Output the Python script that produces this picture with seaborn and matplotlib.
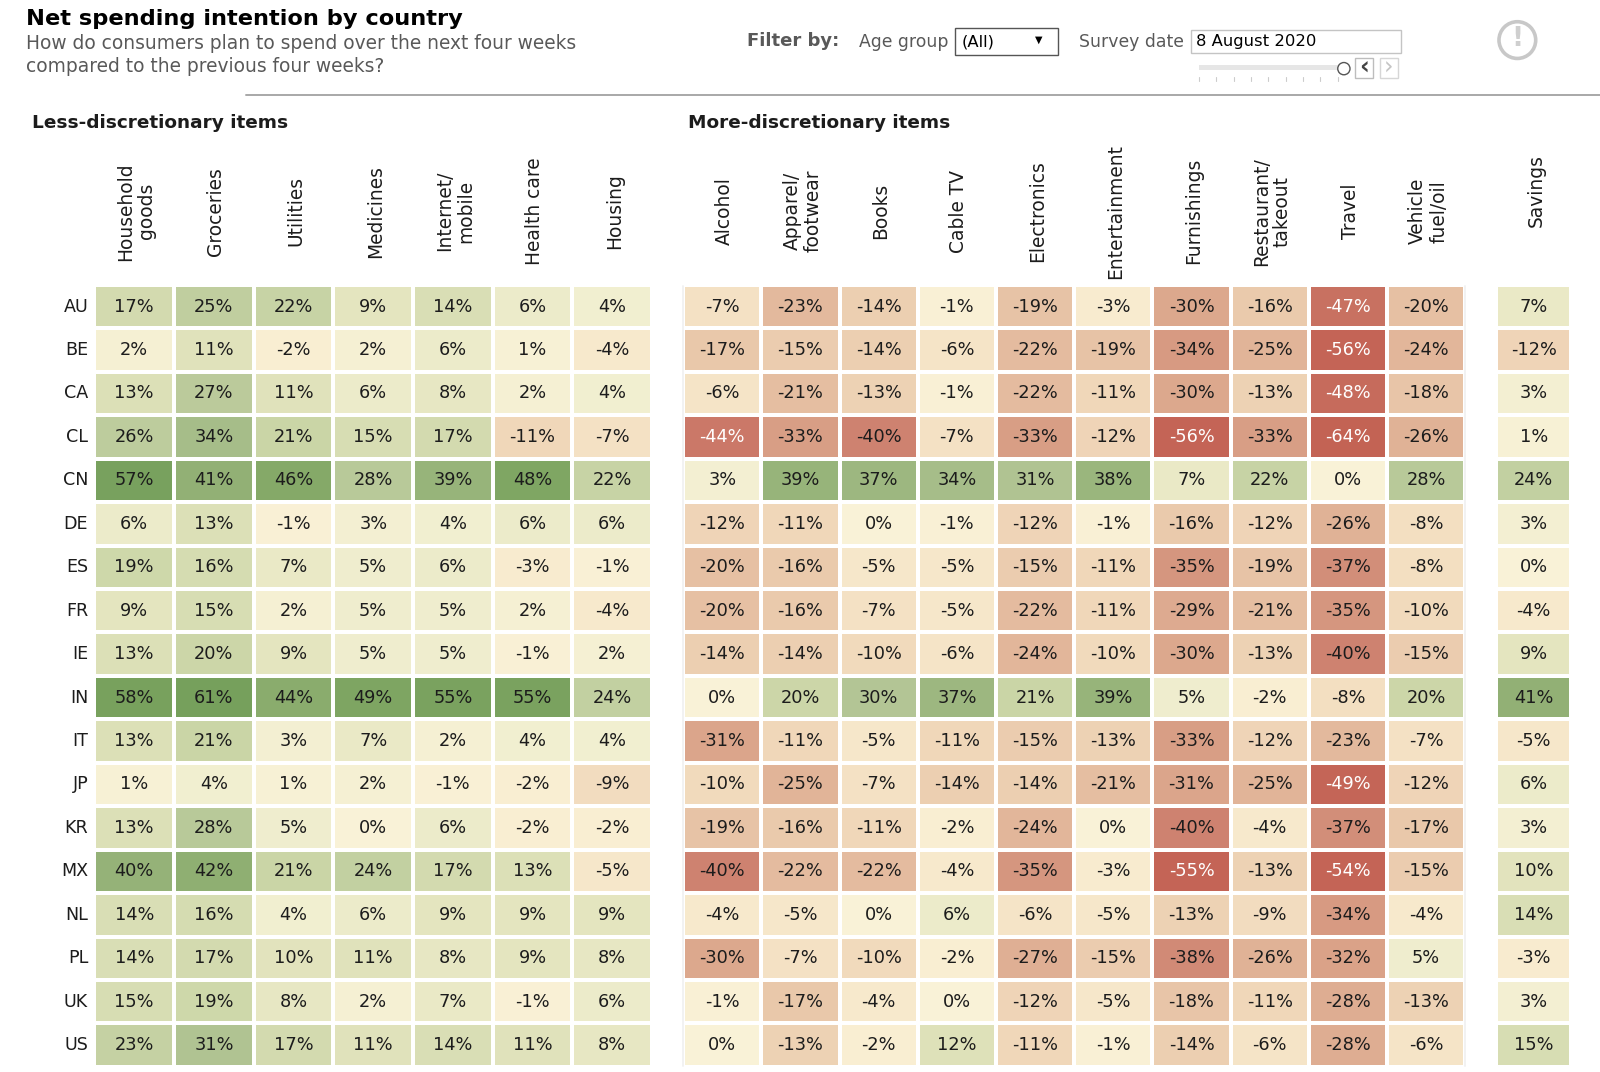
import numpy as np
import pandas as pd
import matplotlib
matplotlib.use("Agg")
import matplotlib.pyplot as plt
from matplotlib.colors import LinearSegmentedColormap
from matplotlib.patches import Circle, Rectangle
from matplotlib.transforms import ScaledTranslation
import seaborn as sns

countries = ["AU", "BE", "CA", "CL", "CN", "DE", "ES", "FR", "IE",
             "IN", "IT", "JP", "KR", "MX", "NL", "PL", "UK", "US"]
less_items = ["Household\ngoods", "Groceries", "Utilities", "Medicines",
              "Internet/\nmobile", "Health care", "Housing"]
more_items = ["Alcohol", "Apparel/\nfootwear", "Books", "Cable TV", "Electronics",
              "Entertainment", "Furnishings", "Restaurant/\ntakeout", "Travel", "Vehicle\nfuel/oil"]
savings_items = ["Savings"]

less_values = [
    [17, 25, 22, 9, 14, 6, 4],
    [2, 11, -2, 2, 6, 1, -4],
    [13, 27, 11, 6, 8, 2, 4],
    [26, 34, 21, 15, 17, -11, -7],
    [57, 41, 46, 28, 39, 48, 22],
    [6, 13, -1, 3, 4, 6, 6],
    [19, 16, 7, 5, 6, -3, -1],
    [9, 15, 2, 5, 5, 2, -4],
    [13, 20, 9, 5, 5, -1, 2],
    [58, 61, 44, 49, 55, 55, 24],
    [13, 21, 3, 7, 2, 4, 4],
    [1, 4, 1, 2, -1, -2, -9],
    [13, 28, 5, 0, 6, -2, -2],
    [40, 42, 21, 24, 17, 13, -5],
    [14, 16, 4, 6, 9, 9, 9],
    [14, 17, 10, 11, 8, 9, 8],
    [15, 19, 8, 2, 7, -1, 6],
    [23, 31, 17, 11, 14, 11, 8],
]
more_values = [
    [-7, -23, -14, -1, -19, -3, -30, -16, -47, -20],
    [-17, -15, -14, -6, -22, -19, -34, -25, -56, -24],
    [-6, -21, -13, -1, -22, -11, -30, -13, -48, -18],
    [-44, -33, -40, -7, -33, -12, -56, -33, -64, -26],
    [3, 39, 37, 34, 31, 38, 7, 22, 0, 28],
    [-12, -11, 0, -1, -12, -1, -16, -12, -26, -8],
    [-20, -16, -5, -5, -15, -11, -35, -19, -37, -8],
    [-20, -16, -7, -5, -22, -11, -29, -21, -35, -10],
    [-14, -14, -10, -6, -24, -10, -30, -13, -40, -15],
    [0, 20, 30, 37, 21, 39, 5, -2, -8, 20],
    [-31, -11, -5, -11, -15, -13, -33, -12, -23, -7],
    [-10, -25, -7, -14, -14, -21, -31, -25, -49, -12],
    [-19, -16, -11, -2, -24, 0, -40, -4, -37, -17],
    [-40, -22, -22, -4, -35, -3, -55, -13, -54, -15],
    [-4, -5, 0, 6, -6, -5, -13, -9, -34, -4],
    [-30, -7, -10, -2, -27, -15, -38, -26, -32, 5],
    [-1, -17, -4, 0, -12, -5, -18, -11, -28, -13],
    [0, -13, -2, 12, -11, -1, -14, -6, -28, -6],
]
savings_values = [7, -12, 3, 1, 24, 3, 0, -4, 9, 41, -5, 6, 3, 10, 14, -3, 3, 15]

W, H = 1568.0, 1050.0
TEXT = "#1c1c1c"
GREY = "#595959"

sns.set_theme(style="white")
plt.rcParams["font.family"] = ["DejaVu Sans"]

# colour read at a few cell values, limits are +-64
stops = [(-64, "#c36354"), (-49, "#c46557"), (-47, "#c87161"), (-40, "#ce8270"), (-31, "#dba58b"),
         (-24, "#e2b69a"), (-15, "#ebccae"), (-5, "#f6e6c9"), (0, "#faf2d7"), (5, "#f0eecf"),
         (9, "#e5e5c0"), (20, "#cdd7a9"), (30, "#b4c696"), (37, "#9eb881"), (41, "#93b176"),
         (49, "#7ea562"), (61, "#76a05c"), (64, "#74a05a")]
spend_cmap = LinearSegmentedColormap.from_list(
    "spend", [((v + 64) / 128, c) for v, c in stops])


def fx(x):
    return x / W


def fy(y):
    return 1 - y / H


def add_panel(fig, frame, left, right, show_rows=False, label_pad=53):
    ax = fig.add_axes([fx(left), fy(1045), fx(right - left), fy(279) - fy(1045)])
    labels = frame.map(lambda v: f"{v}%")
    sns.heatmap(frame, ax=ax, cmap=spend_cmap, vmin=-64, vmax=64, center=0, cbar=False,
                annot=labels, fmt="", linewidths=1.5, linecolor="white",
                annot_kws={"fontsize": 12.8, "color": TEXT})
    for txt, val in zip(ax.texts, frame.to_numpy().ravel()):
        if val <= -44:
            txt.set_color("white")
    ax.xaxis.tick_top()
    ax.tick_params(axis="x", length=0, pad=label_pad)
    ax.set_xticklabels(frame.columns, rotation=90, ha="center", va="center",
                       fontsize=13.4, color=TEXT, linespacing=1.15)
    nudge = ScaledTranslation(1.5 / 72, 0, fig.dpi_scale_trans)
    for tick_label in ax.get_xticklabels():
        tick_label.set_transform(tick_label.get_transform() + nudge)
    ax.tick_params(axis="y", length=0, pad=4.5)
    if show_rows:
        ax.set_yticklabels(frame.index, rotation=0, fontsize=12.6, color=TEXT)
    else:
        ax.set_yticks([])
    ax.set_xlabel("")
    ax.set_ylabel("")
    return ax


fig = plt.figure(figsize=(16, 10.72), dpi=100, facecolor="white")

less_df = pd.DataFrame(less_values, index=countries, columns=less_items)
more_df = pd.DataFrame(more_values, index=countries, columns=more_items)
savings_df = pd.DataFrame(np.array(savings_values).reshape(-1, 1), index=countries, columns=savings_items)

add_panel(fig, less_df, 92.5, 639, show_rows=True)
add_panel(fig, more_df, 669.5, 1436)
add_panel(fig, savings_df, 1466, 1540, label_pad=68)

# header text
fig.text(fx(25), fy(19), "Net spending intention by country", fontsize=16.2, fontweight="bold",
         color="black", va="center")
fig.text(fx(25), fy(43), "How do consumers plan to spend over the next four weeks", fontsize=13.4,
         color=GREY, va="center")
fig.text(fx(25), fy(65), "compared to the previous four weeks?", fontsize=13.4, color=GREY, va="center")
fig.text(fx(31), fy(120), "Less-discretionary items", fontsize=13.3, fontweight="bold", color=TEXT, va="center")
fig.text(fx(674), fy(120), "More-discretionary items", fontsize=13.3, fontweight="bold", color=TEXT, va="center")

# filter controls
fig.text(fx(732), fy(40), "Filter by:", fontsize=13, fontweight="bold", color=GREY, va="center")
fig.text(fx(842), fy(41), "Age group", fontsize=12.4, color=GREY, va="center")
fig.text(fx(1057), fy(41), "Survey date", fontsize=12.4, color=GREY, va="center")
fig.text(fx(942), fy(41), "(All)", fontsize=11.8, color="black", va="center")
fig.text(fx(1172), fy(41), "8 August 2020", fontsize=11.8, color="black", va="center")
fig.text(fx(1018), fy(39), "\u25bc", fontsize=7, color="black", va="center", ha="center")


def add_box(x0, y0, x1, y1, edge, fc="white", lw=1.0):
    fig.add_artist(Rectangle((fx(x0), fy(y1)), fx(x1 - x0), fy(y0) - fy(y1), transform=fig.transFigure,
                             facecolor=fc, edgecolor=edge, linewidth=lw))


add_box(936, 27, 1037, 54, "#555555")
add_box(1167, 29, 1373, 52, "#c4c4c4")
add_box(1175, 64, 1311, 69, "none", fc="#e6e6e6", lw=0)
for tick_x in range(1175, 1320, 17):
    fig.add_artist(plt.Line2D([fx(tick_x), fx(tick_x)], [fy(75), fy(79)], color="#cccccc", lw=0.8))
add_box(1328, 57, 1346, 76, "#bdbdbd")
add_box(1352, 57, 1370, 76, "#d6d6d6")
fig.text(fx(1337), fy(66), "\u2039", fontsize=17, fontweight="bold", color="#444444", ha="center", va="center")
fig.text(fx(1361), fy(66), "\u203a", fontsize=17, color="#c4c4c4", ha="center", va="center")

# fixed pixel aspect for the round marks
overlay = fig.add_axes([0, 0, 1, 1], facecolor="none", zorder=5)
overlay.set_xlim(0, W)
overlay.set_ylim(H, 0)
overlay.set_aspect("equal")
overlay.axis("off")
overlay.add_patch(Circle((1317, 67), 6, facecolor="white", edgecolor="#555555", lw=1))
overlay.add_patch(Circle((1487, 39), 18, facecolor="white", edgecolor="#c8c8c8", lw=2.6))
overlay.text(1487, 38, "!", fontsize=19, fontweight="bold", color="#cfcfcf", ha="center", va="center")
overlay.plot([241, 1568], [92.5, 92.5], color="#a8a8a8", lw=1.4)
# faint edge lines either side of the middle block
overlay.plot([669.5, 669.5], [280, 1044], color="#f2f2f2", lw=1.4)
overlay.plot([1436, 1436], [280, 1044], color="#f2f2f2", lw=1.4)

fig.savefig("out.png", dpi=100, facecolor="white")
